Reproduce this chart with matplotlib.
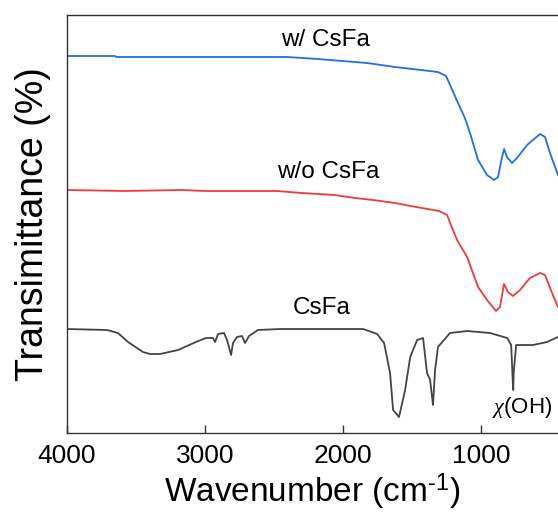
import matplotlib
matplotlib.use('Agg')
import matplotlib.pyplot as plt

plt.rcParams['font.family'] = ['Liberation Sans', 'DejaVu Sans']
plt.rcParams['mathtext.fontset'] = 'custom'
plt.rcParams['mathtext.rm'] = 'Liberation Sans'
plt.rcParams['mathtext.it'] = 'Liberation Serif:italic'

# wavenumber (cm-1) / transmittance (arb. units, offset spectra)
wn_with = [4000, 3650, 3640, 3600, 2405, 2180, 2006, 1825, 1623, 1435, 1312, 1254,
           1218, 1167, 1117, 1080, 1022, 957, 906, 877, 848, 833, 812, 776, 740,
           667, 573, 537, 501, 443]
t_with = [377, 377, 376, 376, 376, 374, 372, 370, 366, 363, 361, 357,
          346, 330, 315, 300, 273, 258, 253, 256, 276, 284, 276, 270, 275,
          288, 299, 296, 280, 258]

wn_without = [4000, 3578, 3165, 2998, 2477, 2296, 2063, 1912, 1782, 1623, 1470, 1304,
              1246, 1224, 1174, 1101, 1022, 957, 892, 863, 834, 805, 769, 718,
              646, 573, 537, 486, 443]
t_without = [243, 242, 243, 242, 242, 240, 238, 235, 233, 230, 226, 222,
             218, 210, 193, 176, 146, 133, 122, 126, 149, 141, 137, 143,
             155, 160, 158, 140, 126]

wn_csfa = [4000, 3708, 3629, 3556, 3448, 3397, 3324, 3194, 3064, 2992, 2941, 2926,
           2904, 2861, 2839, 2810, 2796, 2767, 2731, 2709, 2680, 2615, 2448, 1854,
           1752, 1702, 1659, 1637, 1594, 1550, 1513, 1463, 1420, 1391, 1369, 1348,
           1333, 1312, 1225, 1101, 935, 811, 782, 770, 767, 764, 746, 623, 522, 443]
t_csfa = [104, 103, 100, 91, 81, 79, 79, 83, 91, 95, 95, 91,
          99, 100, 93, 78, 90, 96, 97, 90, 97, 103, 104, 104,
          99, 90, 60, 23, 16, 43, 76, 93, 95, 60, 53, 28,
          63, 86, 100, 102, 100, 95, 88, 50, 43, 60, 88, 88, 91, 96]

fig = plt.figure(figsize=(5.58, 5.18), dpi=100)
ax = fig.add_axes([66.7 / 558, 85 / 518, 1 - 66.7 / 558, 418 / 518])

ax.plot(wn_with, t_with, color='#1f6fe6', lw=1.3)
ax.plot(wn_without, t_without, color='#f03a3a', lw=1.3)
ax.plot(wn_csfa, t_csfa, color='#444444', lw=1.3)

ax.text(2130, 393, 'w/ CsFa', fontsize=17.5, ha='center', va='center')
ax.text(2110, 261, 'w/o CsFa', fontsize=17.5, ha='center', va='center')
ax.text(2157, 125, 'CsFa', fontsize=17.5, ha='center', va='center')
ax.text(705, 25, r'$\chi$(OH)', fontsize=16, ha='center', va='center')

ax.set_xlim(4000, 443)
ax.set_ylim(0, 418)
ax.set_xticks([4000, 3000, 2000, 1000])
ax.set_yticks([])
ax.tick_params(axis='x', direction='in', length=6, width=1, labelsize=19, pad=8,
               color='#333333')
ax.spines['right'].set_visible(False)
for s in ['top', 'bottom', 'left']:
    ax.spines[s].set_color('#333333')
    ax.spines[s].set_linewidth(1)

ax.set_xlabel(r'Wavenumber (cm$^{\text{-1}}$)', fontsize=24, labelpad=3)
ax.set_ylabel('Transimittance (%)', fontsize=27, labelpad=11)

fig.savefig('out.png', dpi=100)
